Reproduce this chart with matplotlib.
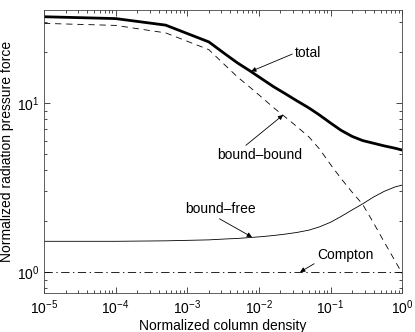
import matplotlib
matplotlib.use("Agg")
import matplotlib.pyplot as plt

plt.rcParams['font.family'] = ['Liberation Sans', 'DejaVu Sans']
plt.rcParams['mathtext.default'] = 'regular'
plt.rcParams['lines.scale_dashes'] = False

# column density grid (normalized)
column_density = [1e-5, 1e-4, 5e-4, 2e-3, 3.5e-3, 5e-3, 7.5e-3, 0.011, 0.016,
                  0.023, 0.034, 0.05, 0.07, 0.1, 0.14, 0.2, 0.28, 0.4, 0.56,
                  0.8, 1.0]
# curves
total = [32.4, 31.6, 28.9, 23.0, 19.3, 17.3, 15.5, 13.9, 12.5,
         11.4, 10.3, 9.35, 8.5, 7.62, 6.9, 6.35, 6.0, 5.78, 5.58,
         5.4, 5.27]
bound_bound = [29.6, 28.8, 26.0, 20.7, 16.5, 14.3, 12.4, 10.8, 9.4,
               8.3, 7.25, 6.3, 5.35, 4.33, 3.58, 2.97, 2.52, 1.95, 1.51,
               1.16, 0.98]
bound_free = [1.52, 1.52, 1.53, 1.55, 1.57, 1.58, 1.60, 1.62, 1.645,
              1.675, 1.715, 1.77, 1.85, 1.97, 2.13, 2.33, 2.53, 2.78, 3.0,
              3.19, 3.27]
compton = [1.0] * len(column_density)

fig = plt.figure(figsize=(4.15, 3.32), dpi=100)
ax = fig.add_axes([0.106, 0.117, 0.863, 0.854])

ax.loglog(column_density, total, color='k', lw=2.0)
ax.loglog(column_density, bound_bound, color='k', lw=0.6, ls=(0, (4.5, 3.5)))
ax.loglog(column_density, bound_free, color='k', lw=0.6)
ax.loglog(column_density, compton, color='k', lw=0.6,
          ls=(0, (6, 2.5, 1, 2.5)))

ax.set_xlim(1e-5, 1)
ax.set_ylim(0.75, 35.7)
ax.set_xlabel('Normalized column density', fontsize=10, labelpad=2)
ax.set_ylabel('Normalized radiation pressure force', fontsize=10, labelpad=2)

ax.tick_params(which='both', direction='in', top=True, right=True,
               labelsize=10, colors='k')
ax.tick_params(which='major', length=4, width=0.5)
ax.tick_params(which='minor', length=2, width=0.5)
for s in ax.spines.values():
    s.set_linewidth(0.6)
    s.set_color('#444444')


def arrow(relpos):
    return dict(arrowstyle='-|>', lw=0.6, color='k', mutation_scale=7,
                shrinkA=0, shrinkB=0, relpos=relpos)


ax.annotate('total', xy=(7.8e-3, 15.4), xytext=(0.032, 19.8),
            ha='left', va='center', fontsize=10, arrowprops=arrow((0, 0.5)))
ax.annotate('bound\u2013bound', xy=(0.0218, 8.5), xytext=(0.0102, 4.92),
            ha='center', va='center', fontsize=10,
            arrowprops=arrow((0.3, 1.0)))
ax.annotate('bound\u2013free', xy=(8.0e-3, 1.61), xytext=(2.95e-3, 2.36),
            ha='center', va='center', fontsize=10,
            arrowprops=arrow((0.41, 0.0)))
ax.annotate('Compton', xy=(0.0376, 1.0), xytext=(0.16, 1.26),
            ha='center', va='center', fontsize=10,
            arrowprops=arrow((0.0, 0.0)))

fig.savefig('out.png', dpi=100)
